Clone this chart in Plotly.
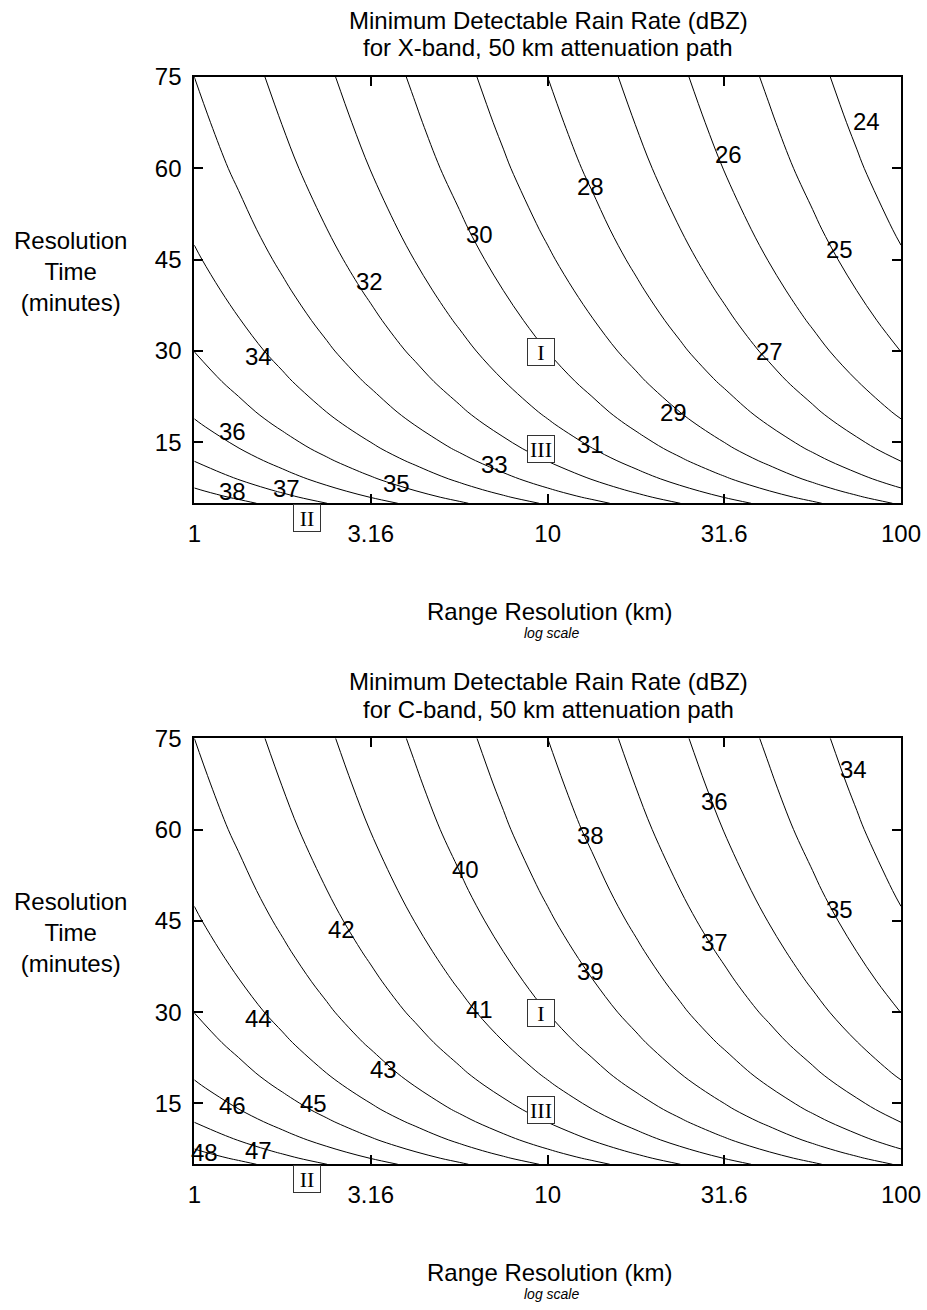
import numpy as np
import plotly.graph_objects as go

# ---------------- data ----------------
# range resolution grid (km, log axis) and the dB change relative to 1 km
range_km = [1, 1.334, 1.778, 2.371, 3.162, 4.217, 5.623, 7.499, 10,
            13.34, 17.78, 23.71, 31.62, 42.17, 56.23, 74.99, 100]
range_change_db = [0.0, -0.625, -1.25, -1.875, -2.5, -3.125, -3.75, -4.375, -5.0,
                   -5.625, -6.25, -6.875, -7.5, -8.125, -8.75, -9.375, -10.0]

# resolution time grid (minutes) and min. detectable dBZ along the 1 km edge
time_min = [5, 6, 7, 8, 9, 10, 12, 14, 16, 18, 20, 25, 30, 35, 40, 45, 50, 60, 67.5, 75]
xband_dbz_at_1km = [38.88, 38.48, 38.15, 37.86, 37.60, 37.38, 36.98, 36.64, 36.36, 36.10,
                    35.87, 35.39, 34.99, 34.66, 34.37, 34.11, 33.88, 33.48, 33.23, 33.00]
cband_dbz_at_1km = [48.88, 48.48, 48.15, 47.86, 47.60, 47.38, 46.98, 46.64, 46.36, 46.10,
                    45.87, 45.39, 44.99, 44.66, 44.37, 44.11, 43.88, 43.48, 43.23, 43.00]

xband_levels = [24, 38]
cband_levels = [34, 48]

x_ticks = [1, 3.16, 10, 31.6, 100]
x_tick_text = ["1", "3.16", "10", "31.6", "100"]
y_ticks = [15, 30, 45, 60, 75]

# contour label texts (level values) and where they sit (range km, minutes)
xband_label_text = ["24", "25", "26", "27", "28", "29", "30", "31", "32", "33", "34", "35", "36", "37", "38"]
xband_label_pos = [(79.9, 67.7), (66.9, 46.7), (32.4, 62.2), (42.4, 30.0), (13.2, 57.0),
                   (22.7, 19.9), (6.43, 49.1), (13.2, 14.6), (3.14, 41.4), (7.06, 11.4),
                   (1.52, 29.1), (3.74, 8.3), (1.28, 16.8), (1.82, 7.5), (1.28, 6.9)]
cband_label_text = ["34", "35", "36", "37", "38", "39", "40", "41", "42", "43", "44", "45", "46", "47", "48"]
cband_label_pos = [(73.3, 69.9), (66.9, 46.8), (29.7, 64.6), (29.7, 41.4), (13.2, 59.1),
                   (13.2, 36.6), (5.87, 53.5), (6.40, 30.4), (2.61, 43.6), (3.43, 20.5),
                   (1.52, 29.0), (2.17, 15.0), (1.28, 14.7), (1.52, 7.2), (1.07, 7.0)]

# boxed case markers inside the plot (range km, minutes)
case_text = ["I", "III"]
case_pos = [(9.6, 29.8), (9.6, 13.9)]
# case II sits just below the axis at ~2.1 km
case_ii_text = "II"
case_ii_range_km = 2.08

# ---------------- figure ----------------
W, H = 927, 1310
FONT = "Liberation Sans, Arial, sans-serif"
SERIF = "Liberation Serif, Times New Roman, serif"

X0, X1 = 194.3, 901.0
x_dom = [X0 / W, X1 / W]
panels = [
    dict(top=77.0, bottom=503.3, z1=xband_dbz_at_1km, lev=xband_levels,
         lt=xband_label_text, lp=xband_label_pos, band="X-band"),
    dict(top=738.3, bottom=1164.3, z1=cband_dbz_at_1km, lev=cband_levels,
         lt=cband_label_text, lp=cband_label_pos, band="C-band"),
]

fig = go.Figure()
annotations = []
layout = {}

BOX = dict(showarrow=False, width=24, height=24, borderpad=1, borderwidth=1,
           bordercolor="#333333", bgcolor="white", xanchor="center", yanchor="middle",
           font=dict(family=SERIF, size=22, color="black"))


def paper_text(text, px, py, size=24):
    return dict(text=text, xref="paper", yref="paper", x=px / W, y=1 - py / H,
                xanchor="center", yanchor="middle", showarrow=False,
                font=dict(family=FONT, size=size, color="black"))


for k, p in enumerate(panels):
    sfx = "" if k == 0 else str(k + 1)
    z = np.add.outer(np.array(p["z1"]), np.array(range_change_db))
    fig.add_trace(go.Contour(
        x=range_km, y=time_min, z=z,
        xaxis="x" + sfx, yaxis="y" + sfx,
        contours=dict(start=p["lev"][0], end=p["lev"][1], size=1,
                      coloring="none", showlabels=False),
        line=dict(color="black", width=1, smoothing=1),
        showscale=False, hoverinfo="skip",
    ))
    y_dom = [1 - p["bottom"] / H, 1 - p["top"] / H]
    layout["xaxis" + sfx] = dict(
        domain=x_dom, type="log", range=[0, 2], anchor="y" + sfx, automargin=False,
        tickvals=x_ticks, ticktext=x_tick_text, ticks="inside", ticklen=9,
        tickwidth=2, tickcolor="black", showline=True, linewidth=2,
        linecolor="black", mirror="ticks", showgrid=False, zeroline=False,
        tickfont=dict(family=FONT, size=24, color="black"), ticklabelstandoff=8,
    )
    layout["yaxis" + sfx] = dict(
        domain=y_dom, range=[5, 75], anchor="x" + sfx, automargin=False,
        tickvals=y_ticks, ticks="inside", ticklen=9, tickwidth=2,
        tickcolor="black", showline=True, linewidth=2, linecolor="black",
        mirror="ticks", showgrid=False, zeroline=False,
        tickfont=dict(family=FONT, size=24, color="black"), ticklabelstandoff=6,
    )
    off = p["top"] - 77.0
    annotations.append(paper_text("Minimum Detectable Rain Rate (dBZ)", 548, 20 + off))
    annotations.append(paper_text("for %s, 50 km attenuation path" % p["band"], 548, 48 + off))
    annotations.append(paper_text("Resolution<br>Time<br>(minutes)", 70, 271.7 + off))
    annotations.append(paper_text("Range Resolution (km)", 549, 611 + off))
    annotations.append(paper_text("<i>log scale</i>", 551, 633 + off, size=14))
    for t, (lx, ly) in zip(p["lt"], p["lp"]):
        annotations.append(dict(text=t, x=np.log10(lx), y=ly, xref="x" + sfx, yref="y" + sfx,
                                xanchor="center", yanchor="middle", showarrow=False,
                                font=dict(family=FONT, size=24, color="black")))
    for t, (cx, cy) in zip(case_text, case_pos):
        annotations.append(dict(text=t, x=np.log10(cx), y=cy, xref="x" + sfx,
                                yref="y" + sfx, **BOX))
    # case II: x from the log axis scale, placed just under the bottom axis line
    ii_px = X0 + (X1 - X0) * np.log10(case_ii_range_km) / 2.0
    annotations.append(dict(text=case_ii_text, xref="paper", yref="paper",
                            x=ii_px / W, y=1 - (p["bottom"] + 15.0) / H, **BOX))

fig.update_layout(
    width=W, height=H, margin=dict(l=0, r=0, t=0, b=0, autoexpand=False),
    paper_bgcolor="white", plot_bgcolor="white", showlegend=False,
    annotations=annotations, **layout,
)

fig.write_html(
    "out.html",
    config={"displayModeBar": False},
    post_script="document.body.style.margin='0px';document.body.style.overflow='hidden';",
)
